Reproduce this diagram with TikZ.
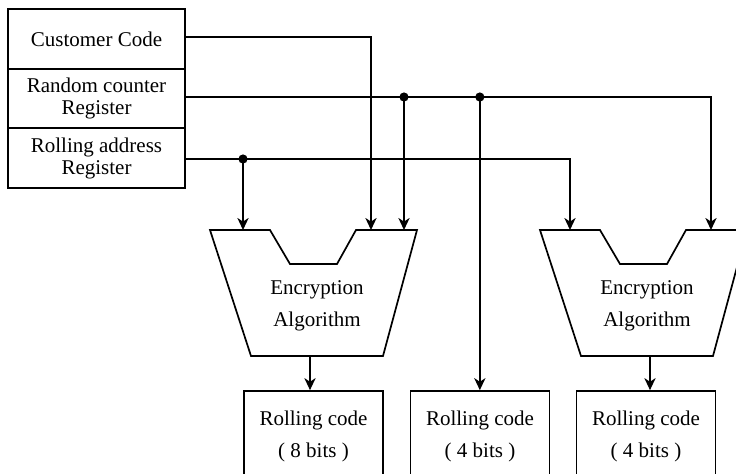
\documentclass[tikz,border=0pt]{standalone}
\usepackage{fontspec}
\setmainfont{Liberation Serif}
\usetikzlibrary{arrows.meta,calc}
\begin{document}
\begin{tikzpicture}[x=0.5pt,y=-0.5pt,
  line width=0.85pt,
  arr/.style={-{Stealth[length=6pt,width=5.6pt,inset=1.8pt]}},
  regbox/.style={draw,minimum width=88.5pt,inner sep=0pt,align=center,
    font=\fontsize{10.5pt}{11pt}\selectfont},
  outbox/.style={draw,minimum width=69.5pt,minimum height=45pt,inner sep=0pt,align=center,
    font=\fontsize{10.5pt}{16pt}\selectfont},
  enctext/.style={align=center,inner sep=0pt,font=\fontsize{10.5pt}{16pt}\selectfont},
  junction/.style={circle,fill,inner sep=0pt,minimum size=4.6pt}]
\useasboundingbox (0,0) rectangle (736,473);
\clip (0,0) rectangle (736,473);

% register stack
\node[regbox,minimum height=30pt] (cc) at (96.5,39) {Customer Code};
\node[regbox,minimum height=29.5pt] (rc) at (96.5,98.5) {Random counter\\Register};
\node[regbox,minimum height=30pt] (ra) at (96.5,158) {Rolling address\\Register};
\coordinate (ccout) at ($(cc.east)+(0,-2)$);
\coordinate (rcout) at ($(rc.east)+(0,-1.5)$);
\coordinate (raout) at ($(ra.east)+(0,1)$);

% encryption blocks
\draw (210,230) -- (270,230) -- (290,264) -- (337,264) -- (356,230) -- (417,230)
  -- (383,356) -- (251,356) -- cycle;
\draw (540,230) -- (600,230) -- (620,264) -- (667,264) -- (686,230) -- (747,230)
  -- (713,356) -- (581,356) -- cycle;
\node[enctext] (enc1) at (317,306) {Encryption\\Algorithm};
\node[enctext] (enc2) at (647,306) {Encryption\\Algorithm};

% inputs on top of encryption blocks
\coordinate (e1a) at (243,230);
\coordinate (e1b) at (371,230);
\coordinate (e1c) at (404,230);
\coordinate (e2a) at (570,230);
\coordinate (e2b) at (711,230);
\coordinate (e1out) at (310,356);
\coordinate (e2out) at (650,356);

% output boxes
\node[outbox] (b1) at (313.5,436) {Rolling code\\( 8 bits )};
\node[outbox] (b2) at (480,436) {Rolling code\\( 4 bits )};
\node[outbox] (b3) at (646,436) {Rolling code\\( 4 bits )};

% junctions
\node[junction] (j1) at (e1c |- rcout) {};
\node[junction] (j2) at ($(rcout)+(294,0)$) {};
\node[junction] (j3) at (e1a |- raout) {};

% connectors
\draw[arr] (ccout) -| (e1b);
\draw[arr] (rcout) -| (e2b);
\draw[arr] (j1.center) -- (e1c);
\draw[arr] (j2.center) -- (j2 |- b2.north);
\draw[arr] (raout) -| (e2a);
\draw[arr] (j3.center) -- (e1a);
\draw[arr] (e1out) -- (e1out |- b1.north);
\draw[arr] (e2out) -- (e2out |- b3.north);
\end{tikzpicture}
\end{document}
